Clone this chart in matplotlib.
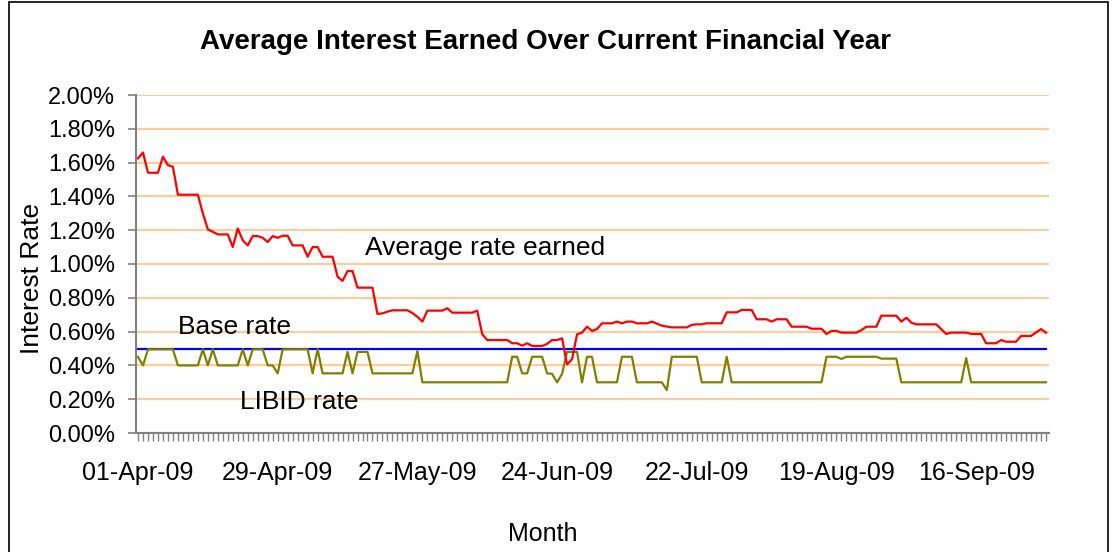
import matplotlib
matplotlib.use('Agg')
import matplotlib.pyplot as plt
import numpy as np
import pandas as pd
from matplotlib.ticker import MultipleLocator, FuncFormatter
from matplotlib.patches import Rectangle

plt.rcParams['font.family'] = ['Liberation Sans', 'DejaVu Sans']

# ---- data (percent) ----
dates = pd.date_range('2009-04-01', '2009-09-30', freq='D')
date_labels = [d.strftime('%d-%b-%y') for d in dates]
label_every = 28

avg_rate = [
    1.625, 1.66, 1.54, 1.54, 1.54, 1.635, 1.585, 1.575, 1.41, 1.41,
    1.41, 1.41, 1.41, 1.30, 1.205, 1.19, 1.175, 1.175, 1.175, 1.10,
    1.21, 1.14, 1.11, 1.165, 1.165, 1.155, 1.13, 1.165, 1.155, 1.167,
    1.167, 1.11, 1.11, 1.11, 1.043, 1.10, 1.10, 1.043, 1.043, 1.043,
    0.925, 0.90, 0.958, 0.958, 0.86, 0.86, 0.86, 0.86, 0.704, 0.708,
    0.718, 0.726, 0.726, 0.726, 0.726, 0.71, 0.688, 0.659, 0.724, 0.724,
    0.724, 0.724, 0.738, 0.712, 0.712, 0.712, 0.712, 0.712, 0.724, 0.584,
    0.55, 0.55, 0.55, 0.55, 0.55, 0.531, 0.531, 0.517, 0.531, 0.515,
    0.515, 0.515, 0.527, 0.55, 0.55, 0.56, 0.406, 0.436, 0.584, 0.594,
    0.629, 0.604, 0.615, 0.649, 0.649, 0.649, 0.659, 0.649, 0.659, 0.659,
    0.649, 0.649, 0.649, 0.659, 0.647, 0.635, 0.63, 0.625, 0.625, 0.625,
    0.625, 0.64, 0.643, 0.643, 0.649, 0.649, 0.649, 0.649, 0.714, 0.714,
    0.714, 0.728, 0.728, 0.728, 0.673, 0.673, 0.673, 0.659, 0.673, 0.673,
    0.673, 0.629, 0.629, 0.629, 0.629, 0.617, 0.617, 0.617, 0.586, 0.604,
    0.604, 0.594, 0.594, 0.594, 0.594, 0.609, 0.629, 0.629, 0.629, 0.694,
    0.694, 0.694, 0.694, 0.659, 0.682, 0.653, 0.643, 0.643, 0.643, 0.643,
    0.643, 0.615, 0.586, 0.594, 0.594, 0.594, 0.594, 0.586, 0.586, 0.586,
    0.531, 0.531, 0.531, 0.55, 0.54, 0.54, 0.54, 0.574, 0.574, 0.574,
    0.595, 0.615, 0.594,
]

libid_rate = [
    0.45, 0.40, 0.495, 0.495, 0.495, 0.495, 0.495, 0.495, 0.40, 0.40,
    0.40, 0.40, 0.40, 0.495, 0.40, 0.495, 0.40, 0.40, 0.40, 0.40,
    0.40, 0.495, 0.40, 0.495, 0.495, 0.495, 0.40, 0.40, 0.353, 0.495,
    0.495, 0.495, 0.495, 0.495, 0.495, 0.353, 0.495, 0.353, 0.353, 0.353,
    0.353, 0.353, 0.48, 0.353, 0.48, 0.48, 0.48, 0.353, 0.353, 0.353,
    0.353, 0.353, 0.353, 0.353, 0.353, 0.353, 0.485, 0.30, 0.30, 0.30,
    0.30, 0.30, 0.30, 0.30, 0.30, 0.30, 0.30, 0.30, 0.30, 0.30,
    0.30, 0.30, 0.30, 0.30, 0.30, 0.451, 0.451, 0.353, 0.353, 0.451,
    0.451, 0.451, 0.353, 0.35, 0.30, 0.35, 0.48, 0.48, 0.48, 0.30,
    0.451, 0.451, 0.30, 0.30, 0.30, 0.30, 0.30, 0.451, 0.451, 0.451,
    0.30, 0.30, 0.30, 0.30, 0.30, 0.30, 0.254, 0.451, 0.451, 0.451,
    0.451, 0.451, 0.451, 0.30, 0.30, 0.30, 0.30, 0.30, 0.451, 0.30,
    0.30, 0.30, 0.30, 0.30, 0.30, 0.30, 0.30, 0.30, 0.30, 0.30,
    0.30, 0.30, 0.30, 0.30, 0.30, 0.30, 0.30, 0.30, 0.451, 0.451,
    0.451, 0.438, 0.451, 0.451, 0.451, 0.451, 0.451, 0.451, 0.451, 0.44,
    0.44, 0.44, 0.44, 0.30, 0.30, 0.30, 0.30, 0.30, 0.30, 0.30,
    0.30, 0.30, 0.30, 0.30, 0.30, 0.30, 0.443, 0.30, 0.30, 0.30,
    0.30, 0.30, 0.30, 0.30, 0.30, 0.30, 0.30, 0.30, 0.30, 0.30,
    0.30, 0.30, 0.30,
]

base_rate_value = 0.50

title = 'Average Interest Earned Over Current Financial Year'
xlabel = 'Month'
ylabel = 'Interest Rate'
series_notes = ['Average rate earned', 'Base rate', 'LIBID rate']

# ---- figure ----
W, H = 1116, 552
fig = plt.figure(figsize=(W / 100, H / 100), dpi=100)
fig.patch.set_facecolor('white')

ax = fig.add_axes([136 / W, 1 - 433 / H, (1049 - 136) / W, (433 - 95) / H])

x = np.arange(len(dates))
base_series = np.full(len(dates), base_rate_value)

ax.plot(x, base_series, color='#0000FF', lw=1.6, zorder=3)
ax.plot(x, libid_rate, color='#808000', lw=1.6, zorder=4)
ax.plot(x, avg_rate, color='#FF0000', lw=1.6, zorder=5)

ax.set_xlim(-0.4, 182.6)
ax.set_ylim(0, 2.0)
ax.yaxis.set_major_locator(MultipleLocator(0.2))
ax.yaxis.set_major_formatter(FuncFormatter(lambda v, p: f'{v:.2f}%'))

ax.grid(axis='y', color='#FFCC99', lw=1.5, zorder=0)
ax.set_axisbelow(True)
for s in ['top', 'right']:
    ax.spines[s].set_visible(False)
for s in ['left', 'bottom']:
    ax.spines[s].set_color('#808080')
    ax.spines[s].set_linewidth(1.5)

ax.set_xticks(x[::label_every])
ax.set_xticklabels(date_labels[::label_every])
ax.set_xticks(x, minor=True)
ax.tick_params(axis='x', which='both', length=6, width=1, color='#808080', direction='out')
ax.tick_params(axis='x', which='major', labelsize=18, pad=14, labelcolor='black')
ax.tick_params(axis='y', which='major', length=6, width=1.2, color='#808080',
               labelsize=17, pad=9, labelcolor='black')

# ---- texts ----
fig.text(546 / W, 1 - 42 / H, title, fontsize=20, fontweight='bold',
         ha='center', va='center')
fig.text(543 / W, 1 - 534 / H, xlabel, fontsize=18, ha='center', va='center')
fig.text(32 / W, 1 - 278 / H, ylabel, fontsize=19, rotation=90,
         ha='center', va='center')
fig.text(365 / W, 1 - 248 / H, series_notes[0], fontsize=19, ha='left', va='center')
fig.text(178 / W, 1 - 327 / H, series_notes[1], fontsize=19, ha='left', va='center')
fig.text(240 / W, 1 - 402 / H, series_notes[2], fontsize=19, ha='left', va='center')

# chart frame
fig.patches.append(Rectangle((9 / W, -0.05), (1108 - 9) / W, (H - 2) / H + 0.05,
                             transform=fig.transFigure, fill=False,
                             edgecolor='black', lw=1.2, zorder=10))

fig.savefig('out.png', dpi=100)
